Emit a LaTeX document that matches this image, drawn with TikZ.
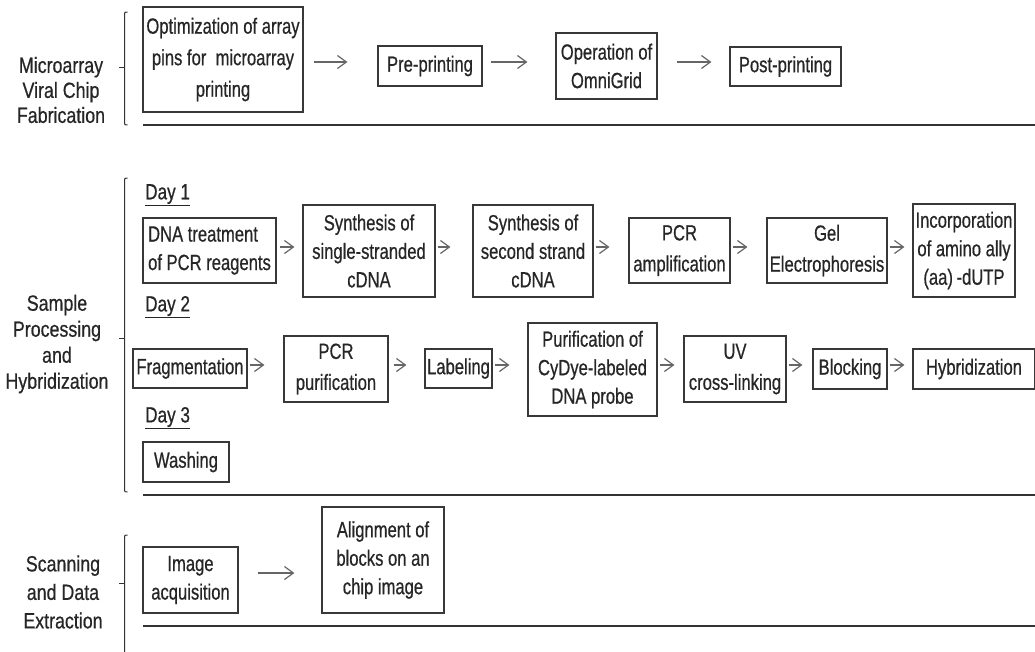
\documentclass[tikz,border=0pt]{standalone}
\usepackage{fontspec}
\setmainfont{Liberation Sans}
\newfontfamily\boxfont[FakeStretch=0.755,FakeBold=0.6]{Liberation Sans}
\newfontfamily\labelfont[FakeStretch=0.81,FakeBold=0.6]{Liberation Sans}
\newfontfamily\dayfont[FakeStretch=0.78,FakeBold=0.6]{Liberation Sans}
\usetikzlibrary{arrows.meta}
\definecolor{ink}{HTML}{262626}
\definecolor{frame}{HTML}{383838}
\definecolor{arrowc}{HTML}{666666}
\definecolor{rulec}{HTML}{333333}

\begin{document}
\begin{tikzpicture}[x=1pt,y=-1pt,
  stepbox/.style={draw=frame, line width=1.1pt, inner sep=0pt, align=center,
    text=ink, font=\boxfont\fontsize{22}{28.5}\selectfont},
  sectlabel/.style={inner sep=0pt, align=center, text=ink,
    font=\labelfont\fontsize{22}{26}\selectfont},
  daylabel/.style={inner sep=0pt, anchor=west, text=ink,
    font=\dayfont\fontsize{22}{24}\selectfont},
  arr/.style={draw=arrowc, line width=1.2pt,
    -{Straight Barb[length=9pt,width=13pt]}},
  brace/.style={draw=rulec, line width=1pt},
  rule/.style={draw=rulec, line width=1.2pt}
]
\useasboundingbox (0,0) rectangle (1035,651);

% ---------- Microarray viral chip fabrication ----------
\node[sectlabel, font=\labelfont\fontsize{22}{25}\selectfont] (s1) at (61,90)
  {Microarray\\Viral Chip\\Fabrication};
\draw[brace] (127.5,12) .. controls (124.5,12) .. (124.5,15) -- (124.5,122)
  .. controls (124.5,125) .. (127.5,125);
\draw[brace] (124.5,67) -- (119,67);

\node[stepbox, minimum width=160pt, minimum height=105pt, font=\boxfont\fontsize{22}{31.5}\selectfont]
  (b1) at (223,59.5) {Optimization of array\\pins for\ \ microarray\\printing};
\node[stepbox, minimum width=104pt, minimum height=40pt] (b2) at (430,66) {Pre-printing};
\node[stepbox, minimum width=101pt, minimum height=66pt] (b3) at (606.5,66) {Operation of\\OmniGrid};
\node[stepbox, minimum width=111pt, minimum height=39pt] (b4) at (785.5,66.5) {Post-printing};

\draw[arr, shorten <=10pt, shorten >=30pt] (b1.east |- 0,62) -- (b2.west |- 0,62);
\draw[arr, shorten <=8pt, shorten >=28pt] (b2.east |- 0,62) -- (b3.west |- 0,62);
\draw[arr, shorten <=19pt, shorten >=18pt] (b3.east |- 0,62) -- (b4.west |- 0,62);

\draw[rule] (143,125) -- (1035,125);

% ---------- Sample processing and hybridization ----------
\node[sectlabel] (s2) at (57,344) {Sample\\Processing\\and\\Hybridization};
\draw[brace] (127.5,178) .. controls (124.5,178) .. (124.5,181) -- (124.5,489)
  .. controls (124.5,492) .. (127.5,492);
\draw[brace] (124.5,338) -- (119,338);

\node[daylabel] (day1) at (145,195) {\underline{Day 1}};
\node[daylabel] (day2) at (145,307) {\underline{Day 2}};
\node[daylabel] (day3) at (145,418) {\underline{Day 3}};

% day 1
\node[stepbox, minimum width=133pt, minimum height=65pt, align=left] (c1) at (209.5,250.5)
  {DNA treatment\\of PCR reagents};
\node[stepbox, minimum width=132pt, minimum height=92pt] (c2) at (369,251)
  {Synthesis of\\single-stranded\\cDNA};
\node[stepbox, minimum width=120pt, minimum height=92pt] (c3) at (533,251)
  {Synthesis of\\second strand\\cDNA};
\node[stepbox, minimum width=101pt, minimum height=65pt, font=\boxfont\fontsize{22}{31}\selectfont]
  (c4) at (679.5,250.5) {PCR\\amplification};
\node[stepbox, minimum width=120pt, minimum height=65pt, font=\boxfont\fontsize{22}{31}\selectfont]
  (c5) at (827,250.5) {Gel\\Electrophoresis};
\node[stepbox, minimum width=102pt, minimum height=93pt] (c6) at (964,250.5)
  {Incorporation\\of amino ally\\(aa)\,-dUTP};

\draw[arr, shorten <=3pt, shorten >=8pt] (c1.east |- 0,247) -- (c2.west |- 0,247);
\draw[arr, shorten <=2pt, shorten >=22pt] (c2.east |- 0,247) -- (c3.west |- 0,247);
\draw[arr, shorten <=2pt, shorten >=19pt] (c3.east |- 0,247) -- (c4.west |- 0,247);
\draw[arr, shorten <=2pt, shorten >=19pt] (c4.east |- 0,247) -- (c5.west |- 0,247);
\draw[arr, shorten <=2pt, shorten >=8pt] (c5.east |- 0,247) -- (c6.west |- 0,247);

% day 2
\node[stepbox, minimum width=114pt, minimum height=39pt] (d1) at (190,368.5) {Fragmentation};
\node[stepbox, minimum width=104pt, minimum height=66pt, font=\boxfont\fontsize{22}{31}\selectfont]
  (d2) at (336,369) {PCR\\purification};
\node[stepbox, minimum width=67pt, minimum height=39pt] (d3) at (458.5,368.5) {Labeling};
\node[stepbox, minimum width=129pt, minimum height=93pt] (d4) at (592.5,369.5)
  {Purification of\\CyDye-labeled\\DNA probe};
\node[stepbox, minimum width=102pt, minimum height=66pt, font=\boxfont\fontsize{22}{31}\selectfont]
  (d5) at (735,369) {UV\\cross-linking};
\node[stepbox, minimum width=74pt, minimum height=40pt] (d6) at (850,369) {Blocking};
\node[stepbox, minimum width=122pt, minimum height=40pt] (d7) at (974,369) {Hybridization};

\draw[arr, shorten <=2pt, shorten >=19pt] (d1.east |- 0,365) -- (d2.west |- 0,365);
\draw[arr, shorten <=5pt, shorten >=18pt] (d2.east |- 0,365) -- (d3.west |- 0,365);
\draw[arr, shorten <=2pt, shorten >=18pt] (d3.east |- 0,365) -- (d4.west |- 0,365);
\draw[arr, shorten <=2pt, shorten >=9pt] (d4.east |- 0,365) -- (d5.west |- 0,365);
\draw[arr, shorten <=2pt, shorten >=10pt] (d5.east |- 0,365) -- (d6.west |- 0,365);
\draw[arr, shorten <=2pt, shorten >=8pt] (d6.east |- 0,365) -- (d7.west |- 0,365);

% day 3
\node[stepbox, minimum width=86pt, minimum height=40pt] (w1) at (186,462) {Washing};

\draw[rule] (143,495) -- (1035,495);

% ---------- Scanning and data extraction ----------
\node[sectlabel, font=\labelfont\fontsize{22}{28.5}\selectfont] (s3) at (63,592)
  {Scanning\\and Data\\Extraction};
\draw[brace] (127.5,535) .. controls (124.5,535) .. (124.5,538) -- (124.5,660);
\draw[brace] (124.5,583) -- (119,583);

\node[stepbox, minimum width=95pt, minimum height=66pt] (e1) at (190.5,580)
  {Image\\acquisition};
\node[stepbox, minimum width=122pt, minimum height=106pt] (e2) at (383,560)
  {Alignment of\\blocks on an\\chip image};

\draw[arr, shorten <=19pt, shorten >=27pt] (e1.east |- 0,573) -- (e2.west |- 0,573);

\draw[rule] (143,626) -- (1035,626);
\end{tikzpicture}
\end{document}
